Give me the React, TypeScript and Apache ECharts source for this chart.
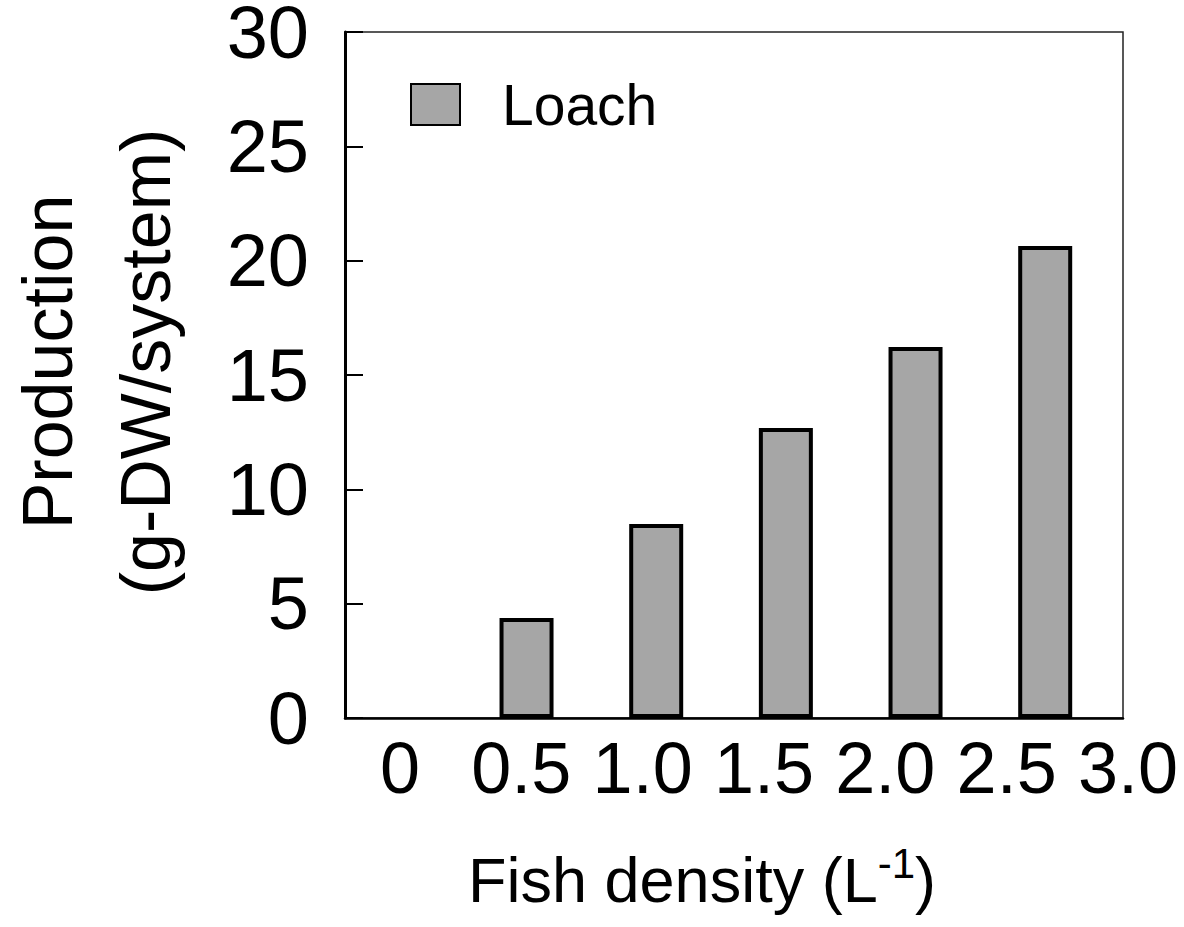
import React, { useEffect, useRef } from "react";
import * as echarts from "echarts";

const seriesName = "Loach";
const densities = [0.5, 1.0, 1.5, 2.0, 2.5];
const production = [4.37, 8.48, 12.68, 16.22, 20.64];
const xTickLabels = ["0", "0.5", "1.0", "1.5", "2.0", "2.5", "3.0"];
const yTitleLines = ["Production", "(g-DW/system)"];
const xTitle = "Fish density (L";
const xTitleSup = "-1";

const FONT = "'Liberation Sans', Arial, Helvetica, sans-serif";

export default function App() {
  const ref = useRef<HTMLDivElement>(null);
  useEffect(() => {
    if (!ref.current) return;
    const chart = echarts.init(ref.current, undefined, { renderer: "svg" });
    const option = {
      animation: false,
      backgroundColor: "#ffffff",
      textStyle: { fontFamily: FONT },
      grid: [
        {
          left: 345,
          right: 61,
          top: 32,
          bottom: 209,
          outerBoundsMode: "none",
          containLabel: false,
          show: true,
          borderColor: "#222",
          borderWidth: 1.5,
          backgroundColor: "transparent",
        },
        {
          left: 400,
          right: 56,
          top: 32,
          bottom: 209,
          outerBoundsMode: "none",
          containLabel: false,
        },
      ],
      legend: {
        data: [seriesName],
        left: 410,
        top: 76,
        padding: 0,
        itemWidth: 49,
        itemHeight: 41,
        icon: "rect",
        itemStyle: { borderColor: "#000", borderWidth: 2 },
        textStyle: {
          fontFamily: FONT,
          fontSize: 57,
          color: "#000",
          lineHeight: 41,
          padding: [0, 0, 0, 37],
        },
      },
      xAxis: [
        {
          type: "value",
          gridIndex: 0,
          min: -0.2,
          max: 2.8,
          axisLine: { show: true, onZero: false, lineStyle: { color: "#000", width: 2.5 } },
          axisTick: { show: false },
          axisLabel: { show: false },
          splitLine: { show: false },
        },
        {
          type: "value",
          gridIndex: 1,
          min: 0,
          max: 3,
          interval: 0.5,
          axisLine: { show: false, onZero: false },
          axisTick: { show: false },
          splitLine: { show: false },
          axisLabel: {
            show: true,
            margin: 14,
            fontSize: 72,
            fontFamily: FONT,
            color: "#000",
            showMinLabel: true,
            showMaxLabel: true,
            formatter: (v: number) => xTickLabels[Math.round(v / 0.5)] ?? "",
          },
        },
      ],
      yAxis: [
        {
          type: "value",
          gridIndex: 0,
          min: 0,
          max: 30,
          interval: 5,
          axisLine: { show: true, onZero: false, lineStyle: { color: "#000", width: 3 } },
          axisTick: { show: true, inside: true, length: 18, lineStyle: { color: "#000", width: 2 } },
          splitLine: { show: false },
          axisLabel: {
            margin: 36,
            fontSize: 74,
            lineHeight: 56,
            fontFamily: FONT,
            color: "#000",
            padding: [7, 0, 0, 0],
          },
        },
        {
          type: "value",
          gridIndex: 1,
          min: 0,
          max: 30,
          show: false,
          axisLine: { onZero: false },
        },
      ],
      series: [
        {
          name: seriesName,
          type: "bar",
          xAxisIndex: 0,
          yAxisIndex: 0,
          barWidth: 54,
          data: densities.map((d, i) => [d, production[i]]),
          itemStyle: { color: "#a6a6a6", borderColor: "#000", borderWidth: 4 },
        },
      ],
      graphic: [
        {
          type: "text",
          x: 97,
          y: 362,
          rotation: Math.PI / 2,
          style: {
            text: yTitleLines.join("\n"),
            fontFamily: FONT,
            fontSize: 70,
            lineHeight: 98,
            fill: "#000",
            align: "center",
            verticalAlign: "middle",
          },
        },
        {
          type: "text",
          x: 702,
          y: 880,
          style: {
            text: `{a|${xTitle}}{s|${xTitleSup}}{a|)}`,
            align: "center",
            verticalAlign: "middle",
            fill: "#000",
            rich: {
              a: { fontFamily: FONT, fontSize: 63, fill: "#000" },
              s: { fontFamily: FONT, fontSize: 42, fill: "#000", padding: [0, 0, 34, 0] },
            },
          },
        },
      ],
    };
    chart.setOption(option as any);
    return () => chart.dispose();
  }, []);
  return (
    <div
      ref={ref}
      style={{ position: "fixed", left: 0, top: 0, width: 1184, height: 927 }}
    />
  );
}
